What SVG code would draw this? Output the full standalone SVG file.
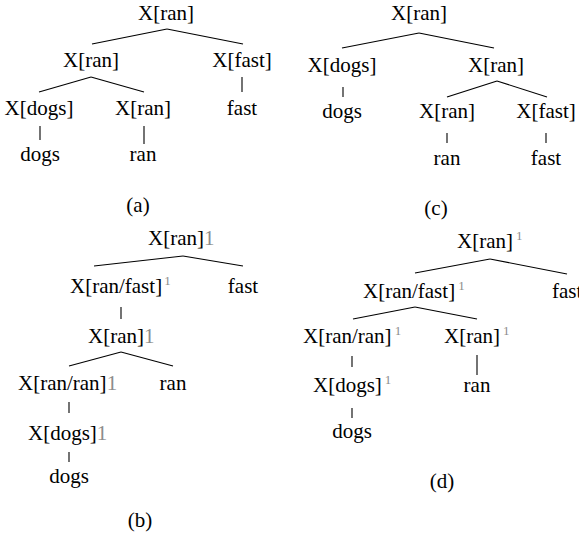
<svg xmlns="http://www.w3.org/2000/svg" width="579" height="542" viewBox="0 0 579 542">
<style>
text{font-family:"Liberation Serif","Times New Roman",serif;font-size:21px;fill:#000}
.m{text-anchor:middle}
.g{fill:#8c8c8c}
.sup{fill:#8c8c8c;font-size:13px}
#connectors line{stroke:#000;stroke-width:1.1}
</style>
<rect width="579" height="542" fill="#fff"/>
<g id="connectors">
<line x1="167" y1="29" x2="92" y2="44"/><line x1="167" y1="29" x2="243" y2="44"/>
<line x1="91" y1="77" x2="39" y2="92"/><line x1="91" y1="77" x2="144" y2="92"/>
<line x1="242" y1="77" x2="242" y2="92"/>
<line x1="40" y1="126" x2="40" y2="140"/><line x1="144" y1="126" x2="144" y2="144"/>
<line x1="419" y1="33" x2="342" y2="48"/><line x1="419" y1="33" x2="494" y2="48"/>
<line x1="343" y1="87" x2="343" y2="97"/>
<line x1="497" y1="81" x2="447" y2="97"/><line x1="497" y1="81" x2="547" y2="97"/>
<line x1="447" y1="133" x2="447" y2="143"/><line x1="546" y1="133" x2="546" y2="143"/>
<line x1="183" y1="256" x2="94" y2="266"/><line x1="183" y1="256" x2="243" y2="266"/>
<line x1="121" y1="307" x2="121" y2="319"/>
<line x1="121" y1="352" x2="69" y2="366"/><line x1="121" y1="352" x2="173" y2="366"/>
<line x1="69" y1="402" x2="69" y2="413"/>
<line x1="69" y1="452" x2="69" y2="462"/>
<line x1="490" y1="259" x2="415" y2="273"/><line x1="490" y1="259" x2="567" y2="274"/>
<line x1="415" y1="307" x2="353" y2="319"/><line x1="415" y1="307" x2="477" y2="319"/>
<line x1="352" y1="356" x2="352" y2="367"/>
<line x1="477" y1="355" x2="477" y2="375"/>
<line x1="352" y1="408" x2="352" y2="418"/>
</g>
<g id="a-root"><text class="m" x="166" y="20">X[ran]</text></g>
<g id="a-l"><text class="m" x="91" y="67">X[ran]</text></g>
<g id="a-r"><text class="m" x="242" y="67">X[fast]</text></g>
<g id="a-ll"><text class="m" x="39" y="115">X[dogs]</text></g>
<g id="a-lr"><text class="m" x="143" y="115">X[ran]</text></g>
<g id="a-fast"><text class="m" x="242" y="115">fast</text></g>
<g id="a-dogs"><text class="m" x="40" y="161">dogs</text></g>
<g id="a-ran"><text class="m" x="143" y="161">ran</text></g>
<g id="a-cap"><text class="m" x="138" y="212">(a)</text></g>
<g id="c-root"><text class="m" x="419" y="20">X[ran]</text></g>
<g id="c-l"><text class="m" x="342" y="72">X[dogs]</text></g>
<g id="c-r"><text class="m" x="496" y="72">X[ran]</text></g>
<g id="c-dogs"><text class="m" x="342" y="118">dogs</text></g>
<g id="c-rl"><text class="m" x="447" y="118">X[ran]</text></g>
<g id="c-rr"><text class="m" x="546" y="118">X[fast]</text></g>
<g id="c-ran"><text class="m" x="447" y="165">ran</text></g>
<g id="c-fast"><text class="m" x="546" y="165">fast</text></g>
<g id="c-cap"><text class="m" x="436" y="215">(c)</text></g>
<g id="b-root"><text x="148" y="245">X[ran]<tspan class="g">1</tspan></text></g>
<g id="b-l"><text x="70" y="293">X[ran/fast]<tspan class="sup" dx="2" dy="-8">1</tspan></text></g>
<g id="b-fast"><text class="m" x="243" y="293">fast</text></g>
<g id="b-mid"><text x="88" y="343">X[ran]<tspan class="g">1</tspan></text></g>
<g id="b-rr"><text x="18" y="390">X[ran/ran]<tspan class="g">1</tspan></text></g>
<g id="b-ran"><text class="m" x="173" y="390">ran</text></g>
<g id="b-dg"><text x="28" y="440">X[dogs]<tspan class="g">1</tspan></text></g>
<g id="b-dogs"><text class="m" x="69" y="483">dogs</text></g>
<g id="b-cap"><text class="m" x="140" y="527">(b)</text></g>
<g id="d-root"><text x="457" y="248">X[ran]<tspan class="sup" dx="3" dy="-8">1</tspan></text></g>
<g id="d-l"><text x="363" y="298">X[ran/fast]<tspan class="sup" dx="3" dy="-8">1</tspan></text></g>
<g id="d-fast"><text x="552" y="298">fast</text></g>
<g id="d-ll"><text x="303" y="343">X[ran/ran]<tspan class="sup" dx="3" dy="-8">1</tspan></text></g>
<g id="d-lr"><text x="444" y="343">X[ran]<tspan class="sup" dx="3" dy="-8">1</tspan></text></g>
<g id="d-dg"><text x="313" y="392">X[dogs]<tspan class="sup" dx="3" dy="-8">1</tspan></text></g>
<g id="d-ran"><text class="m" x="477" y="392">ran</text></g>
<g id="d-dogs"><text class="m" x="352" y="438">dogs</text></g>
<g id="d-cap"><text class="m" x="442" y="488">(d)</text></g>
</svg>
